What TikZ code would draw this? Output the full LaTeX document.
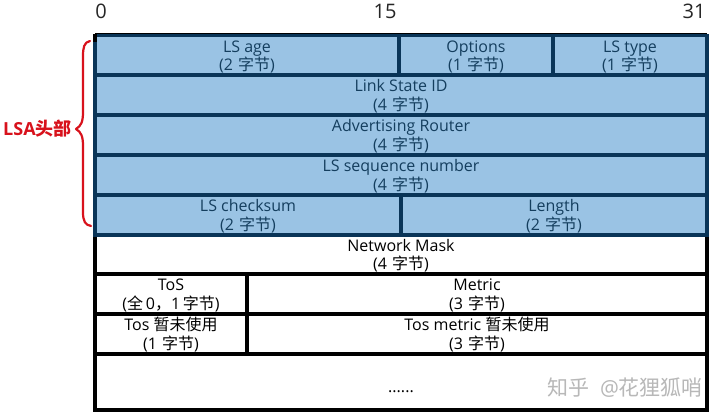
\documentclass[tikz,border=0pt]{standalone}
\usepackage{fontspec}
\setmainfont{Open Sans}
\newfontfamily\cjk{Noto Sans CJK SC}
\definecolor{cellblue}{HTML}{9AC3E4}
\definecolor{lineblue}{HTML}{0A3558}
\definecolor{txtblue}{HTML}{143E5E}
\definecolor{bracered}{HTML}{D8121C}
\newcommand{\zh}[1]{{\cjk #1}}
\newcommand{\bytes}[1]{(#1\,\zh{字节})}
% name, x1, y1, x2, y2, style, text
\newcommand{\cell}[7]{%
  \pgfmathsetmacro{\cw}{#4-#2}\pgfmathsetmacro{\ch}{#5-#3}%
  \node[#6,minimum width=\cw pt,minimum height=\ch pt] (#1) at ({(#2+#4)/2},{(#3+#5)/2}) {\rule{0pt}{15pt}#7};}
\tikzset{
  x=1pt,y=-1pt,
  basecell/.style={inner sep=0pt,outer sep=0pt,align=center,font=\fontsize{16}{18.5}\selectfont},
  bluecell/.style={basecell,draw=lineblue,line width=3.4pt,fill=cellblue,text=txtblue},
  whitecell/.style={basecell,draw=black,line width=3.6pt,fill=white,text=black},
  bitlabel/.style={inner sep=0pt,font=\fontsize{20}{22}\selectfont,text=black!85},
}
\begin{document}
\begin{tikzpicture}
\useasboundingbox (0,0) rectangle (720,418);
\fill[white] (0,0) rectangle (720,418);
\node[bitlabel] (b0) at (101,11) {0};
\node[bitlabel] (b15) at (385,11) {15};
\node[bitlabel] (b31) at (694,11) {31};
% white part
\cell{mask}{95}{235}{707}{274}{whitecell}{Network Mask\\\bytes{4\,}}
\cell{tos}{95}{274}{247}{314}{whitecell}{ToS\\(\zh{全}\,0\zh{，}1\,\zh{字节})}
\cell{metric}{247}{274}{707}{314}{whitecell}{Metric\\\bytes{3\,}}
\cell{tosu}{95}{314}{247}{354}{whitecell}{Tos \zh{暂未使用}\\\bytes{1\,}}
\cell{tosm}{247}{314}{707}{354}{whitecell}{Tos metric \zh{暂未使用}\\\bytes{3\,}}
\cell{more}{95}{360}{707}{410}{basecell,text=black}{......}
\draw[black,line width=3.6pt] (more.north west |- 0,354) rectangle (more.south east);
% blue header
\draw[black,line width=3.6pt] (95,35) -- (707,35);
\cell{age}{95}{35.5}{399}{75}{bluecell}{LS age\\\bytes{2\,}}
\cell{opt}{399}{35.5}{553}{75}{bluecell}{Options\\\bytes{1\,}}
\cell{typ}{553}{35.5}{707}{75}{bluecell}{LS type\\\bytes{1\,}}
\cell{lsid}{95}{75}{707}{115}{bluecell}{Link State ID\\\bytes{4\,}}
\cell{adv}{95}{115}{707}{155}{bluecell}{Advertising Router\\\bytes{4\,}}
\cell{seq}{95}{155}{707}{195}{bluecell}{LS sequence number\\\bytes{4\,}}
\cell{chk}{95}{195}{401}{235}{bluecell}{LS checksum\\\bytes{2\,}}
\cell{len}{401}{195}{707}{235}{bluecell}{Length\\\bytes{2\,}}
\draw[black,line width=3.6pt] (95,33.5) -- (95,42);
% brace
\draw[bracered,line width=2.2pt,line cap=round,line join=round]
  (90,41) .. controls (84,42) and (83,48) .. (83,56)
  -- (83,112) .. controls (83,122) and (81,126) .. (76,129)
  .. controls (81,132) and (83,136) .. (83,146)
  -- (83,212) .. controls (83,221) and (85,225) .. (91,226);
\node[inner sep=0pt,text=bracered,font=\fontsize{18}{20}\selectfont\bfseries] (lsa) at (37.5,128.5)
  {LSA\zh{\bfseries 头部}};
\node[inner sep=0pt,text=black!28,font=\fontsize{21}{23}\selectfont] (wm) at (625,388)
  {\zh{知乎}\ \ @\zh{花狸狐哨}};
\end{tikzpicture}
\end{document}
